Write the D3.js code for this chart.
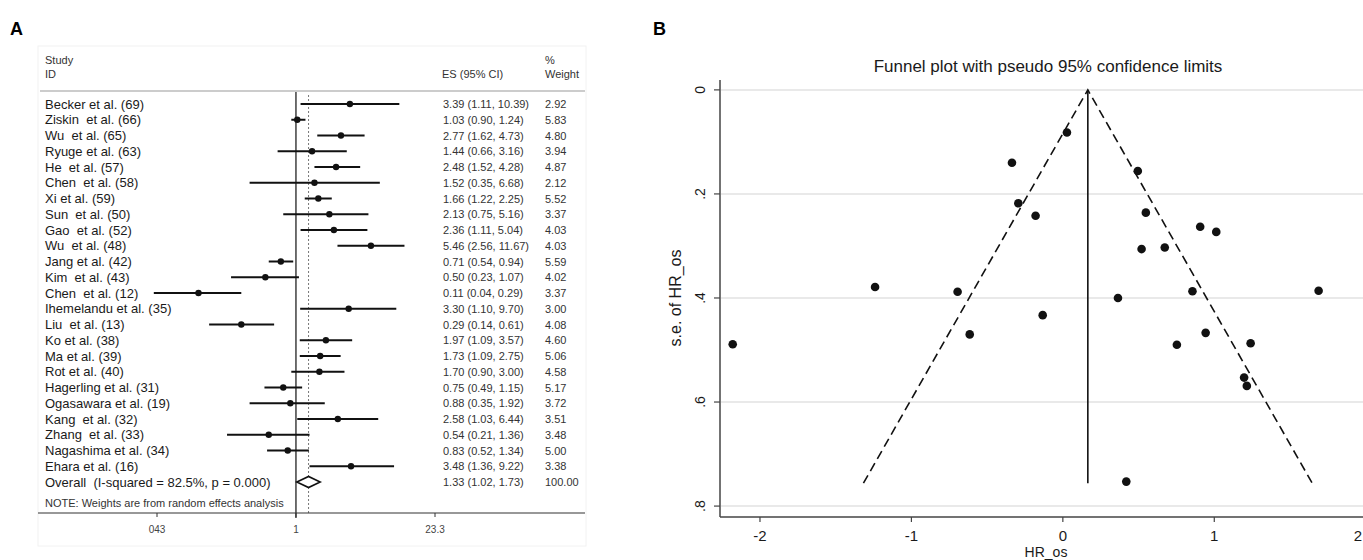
<!DOCTYPE html>
<html>
<head>
<meta charset="utf-8">
<script src="https://cdn.jsdelivr.net/npm/d3@7"></script>
<style>
  body { margin: 0; background: #fff; }
  svg { display: block; font-family: "Liberation Sans", Arial, sans-serif; }
</style>
</head>
<body>
<div id="chart"></div>
<script>
// ---- forest plot data (panel A)
var studies = ["Becker et al. (69)", "Ziskin  et al. (66)", "Wu  et al. (65)", "Ryuge et al. (63)", "He  et al. (57)",
    "Chen  et al. (58)", "Xi et al. (59)", "Sun  et al. (50)", "Gao  et al. (52)", "Wu  et al. (48)",
    "Jang et al. (42)", "Kim  et al. (43)", "Chen  et al. (12)", "Ihemelandu et al. (35)", "Liu  et al. (13)",
    "Ko et al. (38)", "Ma et al. (39)", "Rot et al. (40)", "Hagerling et al. (31)", "Ogasawara et al. (19)",
    "Kang  et al. (32)", "Zhang  et al. (33)", "Nagashima et al. (34)", "Ehara et al. (16)"];
var es = [3.39, 1.03, 2.77, 1.44, 2.48, 1.52, 1.66, 2.13, 2.36, 5.46, 0.71, 0.50, 0.11, 3.30, 0.29, 1.97, 1.73, 1.70, 0.75, 0.88, 2.58, 0.54, 0.83, 3.48];
var ciLow = [1.11, 0.90, 1.62, 0.66, 1.52, 0.35, 1.22, 0.75, 1.11, 2.56, 0.54, 0.23, 0.04, 1.10, 0.14, 1.09, 1.09, 0.90, 0.49, 0.35, 1.03, 0.21, 0.52, 1.36];
var ciHigh = [10.39, 1.24, 4.73, 3.16, 4.28, 6.68, 2.25, 5.16, 5.04, 11.67, 0.94, 1.07, 0.29, 9.70, 0.61, 3.57, 2.75, 3.00, 1.15, 1.92, 6.44, 1.36, 1.34, 9.22];
var weights = [2.92, 5.83, 4.80, 3.94, 4.87, 2.12, 5.52, 3.37, 4.03, 4.03, 5.59, 4.02, 3.37, 3.00, 4.08, 4.60, 5.06, 4.58, 5.17, 3.72, 3.51, 3.48, 5.00, 3.38];
var overall = { label: "Overall  (I-squared = 82.5%, p = 0.000)", es: 1.33, lo: 1.02, hi: 1.73, weight: "100.00" };
var forestTicks = [0.043, 1, 23.3];
var forestTickLabels = ["043", "1", "23.3"];

// ---- funnel plot data (panel B), log HR and its standard error
var logHR = [1.215, 0.027, 1.013, 0.364, 0.907, 0.419, 0.495, 0.753, 0.856, 1.689, -0.336, -0.695, -2.18, 1.197, -1.24, 0.673, 0.548, 0.52, -0.294, -0.133, 0.943, -0.615, -0.18, 1.24];
var seHR = [0.569, 0.082, 0.273, 0.400, 0.263, 0.753, 0.156, 0.490, 0.387, 0.386, 0.140, 0.388, 0.489, 0.553, 0.379, 0.303, 0.236, 0.306, 0.218, 0.433, 0.467, 0.470, 0.242, 0.487];
var pooled = 0.165;
var seMax = 0.756;
var funnelXTicks = [-2, -1, 0, 1, 2];
var funnelYTicks = [0, 0.2, 0.4, 0.6, 0.8];
var funnelYLabels = ["0", ".2", ".4", ".6", ".8"];

var W = 1363, H = 560;
var svg = d3.select("#chart").append("svg")
    .attr("width", W)
    .attr("height", H);

svg.append("rect").attr("width", W).attr("height", H).attr("fill", "#fff");

// ================= Panel A =================
svg.append("text").attr("x", 10).attr("y", 35)
    .attr("font-size", "18px").attr("font-weight", "bold").text("A");

// faint frame of the pasted figure
svg.append("rect")
    .attr("x", 38).attr("y", 46).attr("width", 548).attr("height", 500)
    .attr("fill", "none").attr("stroke", "#f2f2f2");

var x = d3.scaleLog().domain([0.043, 23.3]).range([157, 435]);
var rowY = d3.scaleLinear().domain([0, 24]).range([104, 482]);

var head = svg.append("g").attr("font-size", "11px").attr("fill", "#333");
head.append("text").attr("x", 45).attr("y", 64).text("Study");
head.append("text").attr("x", 45).attr("y", 78).text("ID");
head.append("text").attr("x", 442).attr("y", 78).text("ES (95% CI)");
head.append("text").attr("x", 545).attr("y", 64).text("%");
head.append("text").attr("x", 545).attr("y", 78).text("Weight");

svg.append("line")
    .attr("x1", 40).attr("x2", 585).attr("y1", 91).attr("y2", 91)
    .attr("stroke", "#bbb").attr("stroke-width", 1.5);

// null line and overall estimate line
svg.append("line")
    .attr("x1", x(1)).attr("x2", x(1)).attr("y1", 92).attr("y2", 518)
    .attr("stroke", "#222").attr("stroke-width", 1.3);
svg.append("line")
    .attr("x1", x(overall.es)).attr("x2", x(overall.es)).attr("y1", 95).attr("y2", 513)
    .attr("stroke", "#777").attr("stroke-width", 1).attr("stroke-dasharray", "2,2");

var rows = svg.append("g");
studies.forEach(function (name, i) {
    var y = rowY(i);
    rows.append("text").attr("x", 45).attr("y", y + 4.5)
        .attr("font-size", "13px").attr("fill", "#1a1a1a")
        .style("white-space", "pre").text(name);
    rows.append("line")
        .attr("x1", x(ciLow[i])).attr("x2", x(ciHigh[i]))
        .attr("y1", y).attr("y2", y)
        .attr("stroke", "#111").attr("stroke-width", 2);
    rows.append("circle").attr("cx", x(es[i])).attr("cy", y).attr("r", 3.2).attr("fill", "#111");
    rows.append("text").attr("x", 443).attr("y", y + 4)
        .attr("font-size", "11px").attr("fill", "#333")
        .text(es[i].toFixed(2) + " (" + ciLow[i].toFixed(2) + ", " + ciHigh[i].toFixed(2) + ")");
    rows.append("text").attr("x", 545).attr("y", y + 4)
        .attr("font-size", "11px").attr("fill", "#333")
        .text(weights[i].toFixed(2));
});

// overall row
var oy = rowY(24);
rows.append("text").attr("x", 45).attr("y", oy + 4.5)
    .attr("font-size", "13px").attr("fill", "#1a1a1a")
    .style("white-space", "pre").text(overall.label);
rows.append("path")
    .attr("d", "M" + x(overall.lo) + "," + oy + "L" + x(overall.es) + "," + (oy - 5.5) +
        "L" + x(overall.hi) + "," + oy + "L" + x(overall.es) + "," + (oy + 5.5) + "Z")
    .attr("fill", "#fff").attr("stroke", "#111").attr("stroke-width", 1.6);
rows.append("text").attr("x", 443).attr("y", oy + 4)
    .attr("font-size", "11px").attr("fill", "#333")
    .text(overall.es.toFixed(2) + " (" + overall.lo.toFixed(2) + ", " + overall.hi.toFixed(2) + ")");
rows.append("text").attr("x", 545).attr("y", oy + 4)
    .attr("font-size", "11px").attr("fill", "#333").text(overall.weight);

svg.append("text").attr("x", 45).attr("y", 507)
    .attr("font-size", "11px").attr("fill", "#333")
    .text("NOTE: Weights are from random effects analysis");

// x axis of forest plot
svg.append("line")
    .attr("x1", 38).attr("x2", 585).attr("y1", 513).attr("y2", 513)
    .attr("stroke", "#333").attr("stroke-width", 1.2);
var fAxis = svg.append("g").attr("font-size", "10px").attr("fill", "#444");
forestTicks.forEach(function (t, i) {
    fAxis.append("line").attr("x1", x(t)).attr("x2", x(t)).attr("y1", 513).attr("y2", 517)
        .attr("stroke", "#333");
    fAxis.append("text").attr("x", x(t)).attr("y", 533)
        .attr("text-anchor", "middle").text(forestTickLabels[i]);
});

// ================= Panel B =================
svg.append("text").attr("x", 653).attr("y", 35)
    .attr("font-size", "18px").attr("font-weight", "bold").text("B");

var fx = d3.scaleLinear().domain([-2.264, 2.2]).range([720, 1396]);
var fy = d3.scaleLinear().domain([-0.019, 0.821]).range([80, 517]);

svg.append("text")
    .attr("x", 1048).attr("y", 72)
    .attr("text-anchor", "middle")
    .attr("font-size", "17px").attr("fill", "#1a1a1a")
    .text("Funnel plot with pseudo 95% confidence limits");

// grid lines
svg.append("g").selectAll("line")
    .data(funnelYTicks).enter().append("line")
    .attr("x1", 721).attr("x2", W)
    .attr("y1", function (d) { return fy(d); })
    .attr("y2", function (d) { return fy(d); })
    .attr("stroke", "#e9e9e9").attr("stroke-width", 2);

// pseudo confidence limits
var lim = 1.96 * seMax;
svg.append("path")
    .attr("d", "M" + fx(pooled - lim) + "," + fy(seMax) + "L" + fx(pooled) + "," + fy(0) +
        "L" + fx(pooled + lim) + "," + fy(seMax))
    .attr("fill", "none").attr("stroke", "#111").attr("stroke-width", 1.6)
    .attr("stroke-dasharray", "9,5");
svg.append("line")
    .attr("x1", fx(pooled)).attr("x2", fx(pooled))
    .attr("y1", fy(0)).attr("y2", fy(seMax))
    .attr("stroke", "#111").attr("stroke-width", 1.6);

// study points
svg.append("g").selectAll("circle")
    .data(logHR).enter().append("circle")
    .attr("cx", function (d) { return fx(d); })
    .attr("cy", function (d, i) { return fy(seHR[i]); })
    .attr("r", 4.3)
    .attr("fill", "#111");

// axes
svg.append("line").attr("x1", 720).attr("x2", 720).attr("y1", 80).attr("y2", 517)
    .attr("stroke", "#444").attr("stroke-width", 1.5);
svg.append("line").attr("x1", 720).attr("x2", W).attr("y1", 517).attr("y2", 517)
    .attr("stroke", "#444").attr("stroke-width", 1.5);

var bx = svg.append("g").attr("font-size", "15px").attr("fill", "#1a1a1a");
funnelXTicks.forEach(function (t) {
    bx.append("line").attr("x1", fx(t)).attr("x2", fx(t)).attr("y1", 517).attr("y2", 522)
        .attr("stroke", "#444").attr("stroke-width", 1.2);
    // the last label sits on the right edge, keep it inside the picture
    var edge = fx(t) + 5 > W;
    bx.append("text").attr("x", edge ? W - 1 : fx(t)).attr("y", 541)
        .attr("text-anchor", edge ? "end" : "middle").text(t);
});

var by = svg.append("g").attr("font-size", "14px").attr("fill", "#1a1a1a");
funnelYTicks.forEach(function (t, i) {
    by.append("line").attr("x1", 714).attr("x2", 720).attr("y1", fy(t)).attr("y2", fy(t))
        .attr("stroke", "#444").attr("stroke-width", 1.2);
    by.append("text")
        .attr("transform", "translate(705," + fy(t) + ") rotate(-90)")
        .attr("text-anchor", "middle").text(funnelYLabels[i]);
});

svg.append("text")
    .attr("transform", "translate(681," + fy(0.4) + ") rotate(-90)")
    .attr("text-anchor", "middle")
    .attr("font-size", "16px").attr("fill", "#1a1a1a")
    .text("s.e. of HR_os");

svg.append("text")
    .attr("x", 1046).attr("y", 557)
    .attr("text-anchor", "middle")
    .attr("font-size", "14px").attr("fill", "#1a1a1a")
    .text("HR_os");
</script>
</body>
</html>
